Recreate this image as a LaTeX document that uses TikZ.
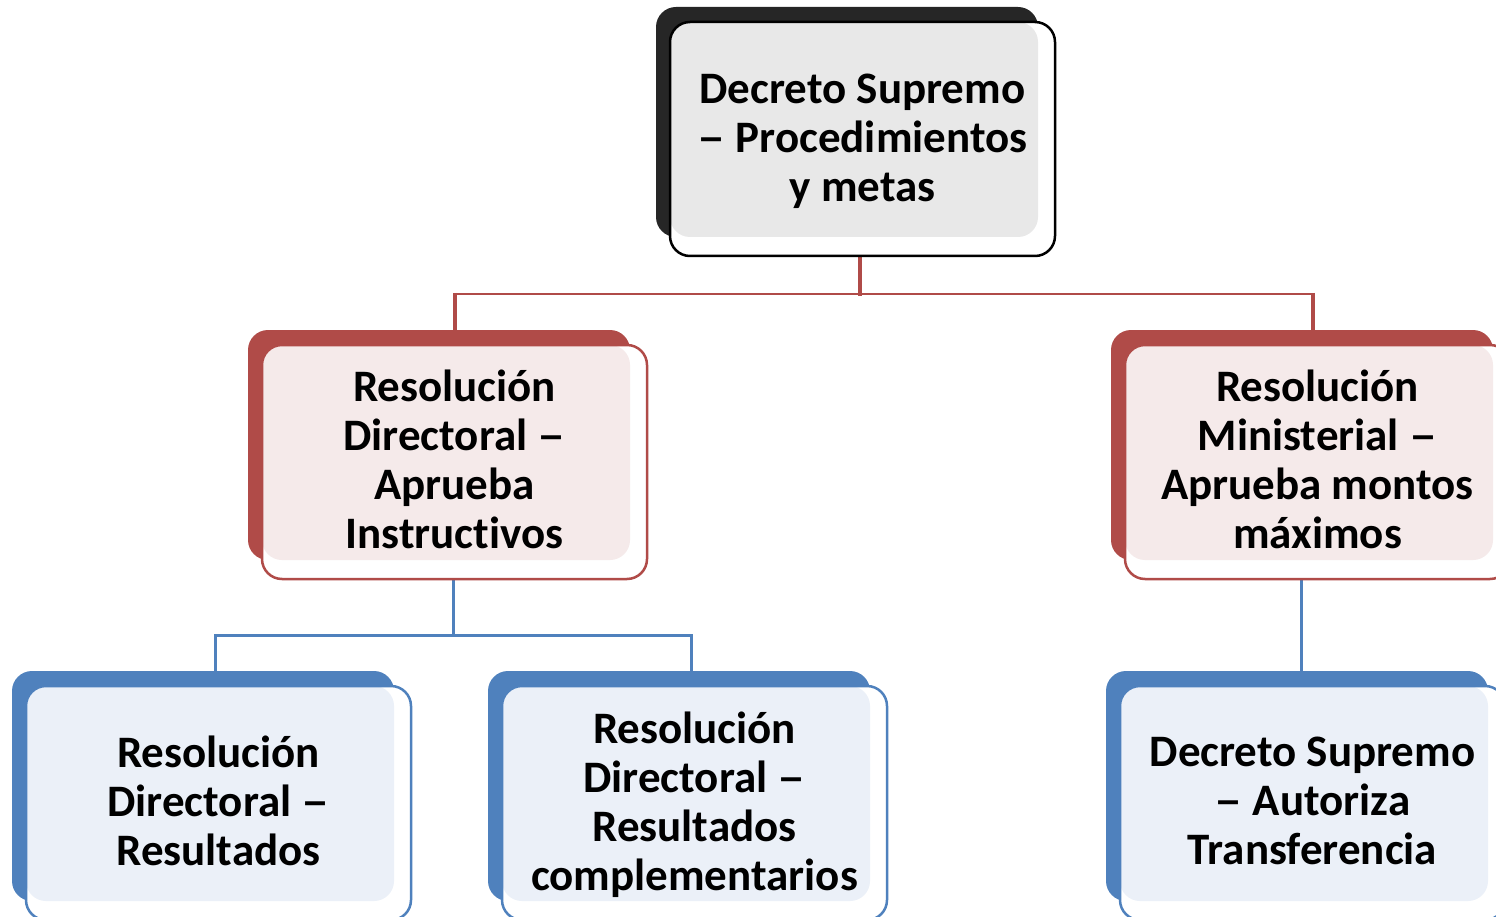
\documentclass[tikz,border=0pt]{standalone}
\usepackage{fontspec}
\setmainfont{Carlito}[RawFeature={-liga}]
\usetikzlibrary{backgrounds}
\definecolor{darkgr}{HTML}{262626}
\definecolor{lightgr}{HTML}{E8E8E8}
\definecolor{redd}{HTML}{B04B48}
\definecolor{redl}{HTML}{F5EAEA}
\definecolor{blued}{HTML}{4F81BD}
\definecolor{bluel}{HTML}{EBF0F8}
\newcommand\dsh{\scalebox{1.25}[1]{–}}
\tikzset{
  x=1pt,y=-1pt,
  boxtext/.style={rounded corners=20pt, minimum width=385pt, minimum height=234pt,
    inner sep=0pt, align=center, font=\bfseries\fontsize{45}{49}\selectfont, line width=2.5pt},
  txt/.style={inner sep=0pt, align=center, font=\bfseries\fontsize{45}{49}\selectfont},
  redline/.style={draw=redd, line width=2.5pt},
  blueline/.style={draw=blued, line width=3pt},
}
% #1 name, #2 left, #3 top, #4 dark, #5 light, #6 outline, #7 text, #8 text shift
\newcommand\orgbox[8]{%
  \fill[#4, rounded corners=20pt] (#2-14,#3-15) rectangle (#2+368,#3+215);
  \fill[white, rounded corners=20pt] (#2,#3) rectangle (#2+385,#3+234);
  \fill[#5, rounded corners=20pt] (#2,#3) rectangle (#2+368,#3+215);
  \node[boxtext, draw=#6] (#1) at (#2+192.5,#3+117) {};
  \node[txt] (#1t) at (#2+192.5,#3+117+#8) {#7};
}
\begin{document}
\begin{tikzpicture}
\useasboundingbox (0,0) rectangle (1496,917);
\clip (0,0) rectangle (1496,917);
\orgbox{top}{670}{22}{darkgr}{lightgr}{black}{Decreto Supremo\\\dsh{} Procedimientos\\y metas}{2}
\orgbox{ml}{262}{345}{redd}{redl}{redd}{Resolución\\Directoral \dsh\\Aprueba\\Instructivos}{-3}
\orgbox{mr}{1125}{345}{redd}{redl}{redd}{Resolución\\Ministerial \dsh\\Aprueba montos\\máximos}{-3}
\orgbox{bl}{26}{686}{blued}{bluel}{blued}{Resolución\\Directoral \dsh\\Resultados}{-2}
\orgbox{bm}{502}{686}{blued}{bluel}{blued}{Resolución\\Directoral \dsh\\Resultados\\complementarios}{2}
\orgbox{br}{1120}{686}{blued}{bluel}{blued}{Decreto Supremo\\\dsh{} Autoriza\\Transferencia}{-2}
\begin{pgfonlayer}{background}
  \draw[redline, line width=4pt] (860,0 |- top.south) -- (860,296);
  \draw[redline] (455,294) -- (1313,294);
  \draw[redline, line width=3.5pt] (455,293) -- (455,0 |- ml.north);
  \draw[redline, line width=3.5pt] (1313,293) -- (1313,0 |- mr.north);
  \draw[blueline] (453,0 |- ml.south) -- (453,635);
  \draw[blueline] (215,635) -- (691,635);
  \draw[blueline] (215,634) -- (215,0 |- bl.north);
  \draw[blueline] (691,634) -- (691,0 |- bm.north);
  \draw[blueline] (1301,0 |- mr.south) -- (1301,0 |- br.north);
\end{pgfonlayer}
\end{tikzpicture}
\end{document}
